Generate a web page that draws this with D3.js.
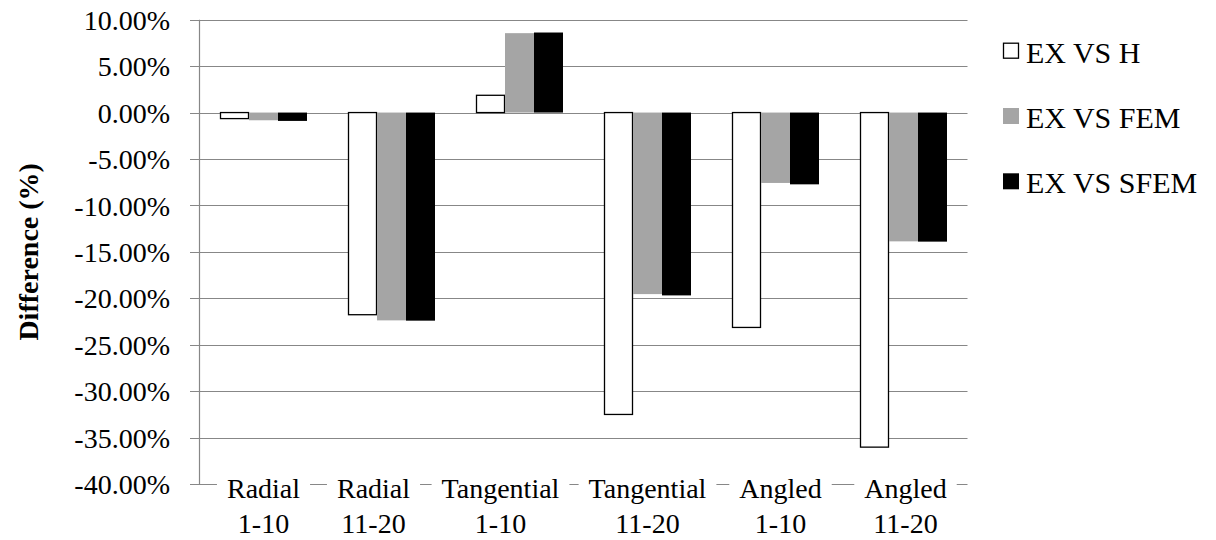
<!DOCTYPE html>
<html>
<head>
<meta charset="utf-8">
<script src="https://cdn.jsdelivr.net/npm/d3@7"></script>
<style>
  html, body { margin: 0; padding: 0; background: #fff; }
  svg { display: block; }
</style>
</head>
<body>
<svg id="chart" width="1216" height="540"></svg>
<script>
// Percentage difference between the experiment and each method
const categories = [["Radial", "1-10"], ["Radial", "11-20"], ["Tangential", "1-10"],
                    ["Tangential", "11-20"], ["Angled", "1-10"], ["Angled", "11-20"]];
const seriesNames = ["EX VS H", "EX VS FEM", "EX VS SFEM"];
const exVsH    = [-0.65, -21.77, 1.86, -32.51, -23.14, -36.03];
const exVsFEM  = [-0.83, -22.38, 8.55, -19.55, -7.58, -13.87];
const exVsSFEM = [-0.90, -22.41, 8.62, -19.69, -7.73, -13.90];
const yTicks = [10, 5, 0, -5, -10, -15, -20, -25, -30, -35, -40];

const seriesValues = [exVsH, exVsFEM, exVsSFEM];
const fills   = ["#ffffff", "#a5a5a5", "#000000"];
const strokes = ["#000000", "none", "none"];

const svg = d3.select("#chart");
const plotLeft = 199.5, plotRight = 967.5, plotTop = 19.7, plotBottom = 484;
const fontSize = 28;
const fontFamily = "Times New Roman, Liberation Serif, Liberation Sans, serif";
const gridColor = "#878787";
// horizontal nudges that keep neighbouring category labels apart
const labelNudge = [0, -18, -19, 0, 5, 2];
const pct = d3.formatLocale({ decimal: ".", thousands: ",", grouping: [3], currency: ["", ""], minus: "-" })
  .format(".2f");

const y = d3.scaleLinear().domain([-40, 10]).range([plotBottom, plotTop]);
const catIdx = d3.range(categories.length);
const x0 = d3.scaleBand().domain(catIdx).range([plotLeft, plotRight])
  .paddingInner(0.3203).paddingOuter(0.16015);
const x1 = d3.scaleBand().domain(d3.range(seriesNames.length)).range([0, x0.bandwidth()]);

// Gridlines with short outward ticks on the value axis
svg.append("g").selectAll("line").data(yTicks).join("line")
  .attr("x1", plotLeft - 9.5).attr("x2", plotRight)
  .attr("y1", d => Math.round(y(d)) + 0.5).attr("y2", d => Math.round(y(d)) + 0.5)
  .attr("stroke", gridColor).attr("stroke-width", 1.2);

// Bars
const groups = svg.append("g").selectAll("g").data(catIdx).join("g")
  .attr("transform", i => `translate(${x0(i)},0)`);
groups.selectAll("rect")
  .data(i => seriesValues.map((vals, s) => ({ s, v: vals[i] })))
  .join("rect")
  .attr("x", d => x1(d.s) + (d.s === 0 ? 0.5 : 0))
  .attr("width", d => x1.bandwidth() - (d.s === 0 ? 1 : 0))
  .attr("y", d => y(Math.max(0, d.v)))
  .attr("height", d => Math.abs(y(d.v) - y(0)))
  .attr("fill", d => fills[d.s])
  .attr("stroke", d => strokes[d.s])
  .attr("stroke-width", 1.3);

// Value axis line
svg.append("line")
  .attr("x1", plotLeft).attr("x2", plotLeft).attr("y1", plotTop).attr("y2", plotBottom)
  .attr("stroke", gridColor).attr("stroke-width", 1.2);

// Value axis labels
svg.append("g").selectAll("text").data(yTicks).join("text")
  .attr("x", 170).attr("y", d => y(d))
  .attr("dy", "0.36em")
  .attr("text-anchor", "end")
  .style("font-family", fontFamily)
  .attr("font-size", fontSize)
  .attr("fill", "#000")
  .text(d => pct(d) + "%");

// Category labels, each boxed in white over the bottom line
const labelX = i => x0(i) + x0.bandwidth() / 2 + labelNudge[i];
const boxLayer = svg.append("g");
const catLabels = svg.append("g").selectAll("g").data(catIdx).join("g")
  .attr("transform", i => `translate(${labelX(i)},0)`)
  .style("font-family", fontFamily)
  .attr("font-size", fontSize)
  .attr("text-anchor", "middle");
catLabels.append("text").attr("class", "l1").attr("y", 498).text(i => categories[i][0]);
catLabels.append("text").attr("y", 533).text(i => categories[i][1]);
catLabels.each(function(i) {
  const w = d3.select(this).select(".l1").node().getComputedTextLength();
  boxLayer.append("rect")
    .attr("x", labelX(i) - w / 2 - 10)
    .attr("width", w + 20)
    .attr("y", 476).attr("height", 64)
    .attr("fill", "#fff");
});

// Value axis title
svg.append("text")
  .attr("transform", `translate(38,${(plotTop + plotBottom) / 2}) rotate(-90)`)
  .attr("text-anchor", "middle")
  .style("font-family", fontFamily)
  .attr("font-size", fontSize)
  .attr("font-weight", "bold")
  .text("Difference (%)");

// Legend
const legend = svg.append("g").selectAll("g").data(seriesNames).join("g")
  .attr("transform", (d, i) => `translate(1003,${62.7 + i * 65.3})`);
legend.append("rect")
  .attr("x", (d, i) => i === 0 ? 0.5 : 0)
  .attr("y", (d, i) => i === 0 ? -19.5 : -20)
  .attr("width", (d, i) => i === 0 ? 15 : 16)
  .attr("height", (d, i) => i === 0 ? 15 : 16)
  .attr("fill", (d, i) => fills[i])
  .attr("stroke", (d, i) => strokes[i])
  .attr("stroke-width", 1.3);
legend.append("text")
  .attr("x", 23).attr("y", 0)
  .style("font-family", fontFamily)
  .attr("font-size", 30)
  .text(d => d);
</script>
</body>
</html>
